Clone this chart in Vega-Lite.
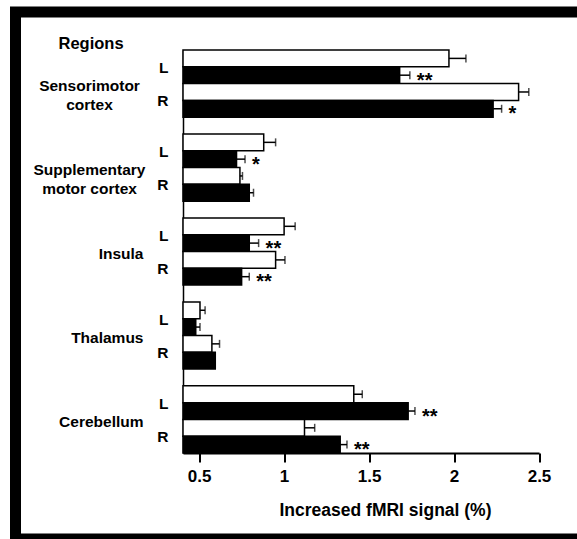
{
  "$schema": "https://vega.github.io/schema/vega-lite/v6.json",
  "autosize": {"type": "none"},
  "padding": {"left": 15.5, "top": 12, "right": 0, "bottom": 0},
  "width": 561.5,
  "height": 527,
  "background": "white",
  "config": {
    "view": {"stroke": "black", "strokeWidth": 11, "fill": "white", "strokeDash": [561.5, 527, 1088.5]},
    "font": "Liberation Sans"
  },
  "data": {
    "values": [
      {"bar": "Sensorimotor cortex|L|A", "region": "Sensorimotor cortex", "side": "L", "group": "A", "value": 1.97, "upper": 2.07, "sig": ""},
      {"bar": "Sensorimotor cortex|L|B", "region": "Sensorimotor cortex", "side": "L", "group": "B", "value": 1.68, "upper": 1.74, "sig": "**"},
      {"bar": "Sensorimotor cortex|R|A", "region": "Sensorimotor cortex", "side": "R", "group": "A", "value": 2.38, "upper": 2.44, "sig": ""},
      {"bar": "Sensorimotor cortex|R|B", "region": "Sensorimotor cortex", "side": "R", "group": "B", "value": 2.23, "upper": 2.28, "sig": "*"},
      {"bar": "Supplementary motor cortex|L|A", "region": "Supplementary motor cortex", "side": "L", "group": "A", "value": 0.88, "upper": 0.95, "sig": ""},
      {"bar": "Supplementary motor cortex|L|B", "region": "Supplementary motor cortex", "side": "L", "group": "B", "value": 0.72, "upper": 0.77, "sig": "*"},
      {"bar": "Supplementary motor cortex|R|A", "region": "Supplementary motor cortex", "side": "R", "group": "A", "value": 0.74, "upper": 0.755, "sig": ""},
      {"bar": "Supplementary motor cortex|R|B", "region": "Supplementary motor cortex", "side": "R", "group": "B", "value": 0.795, "upper": 0.82, "sig": ""},
      {"bar": "Insula|L|A", "region": "Insula", "side": "L", "group": "A", "value": 1.0, "upper": 1.065, "sig": ""},
      {"bar": "Insula|L|B", "region": "Insula", "side": "L", "group": "B", "value": 0.795, "upper": 0.85, "sig": "**"},
      {"bar": "Insula|R|A", "region": "Insula", "side": "R", "group": "A", "value": 0.95, "upper": 1.005, "sig": ""},
      {"bar": "Insula|R|B", "region": "Insula", "side": "R", "group": "B", "value": 0.75, "upper": 0.795, "sig": "**"},
      {"bar": "Thalamus|L|A", "region": "Thalamus", "side": "L", "group": "A", "value": 0.505, "upper": 0.535, "sig": ""},
      {"bar": "Thalamus|L|B", "region": "Thalamus", "side": "L", "group": "B", "value": 0.48, "upper": 0.505, "sig": ""},
      {"bar": "Thalamus|R|A", "region": "Thalamus", "side": "R", "group": "A", "value": 0.575, "upper": 0.62, "sig": ""},
      {"bar": "Thalamus|R|B", "region": "Thalamus", "side": "R", "group": "B", "value": 0.595, "upper": null, "sig": ""},
      {"bar": "Cerebellum|L|A", "region": "Cerebellum", "side": "L", "group": "A", "value": 1.41, "upper": 1.46, "sig": ""},
      {"bar": "Cerebellum|L|B", "region": "Cerebellum", "side": "L", "group": "B", "value": 1.73, "upper": 1.77, "sig": "**"},
      {"bar": "Cerebellum|R|A", "region": "Cerebellum", "side": "R", "group": "A", "value": 1.12, "upper": 1.18, "sig": ""},
      {"bar": "Cerebellum|R|B", "region": "Cerebellum", "side": "R", "group": "B", "value": 1.33, "upper": 1.37, "sig": "**"}
    ]
  },
  "resolve": {"axis": {"y": "independent", "x": "independent"}},
  "layer": [
    {
      "mark": {"type": "bar", "stroke": "black", "strokeWidth": 1.5},
      "encoding": {
        "y": {
          "field": "bar", "type": "nominal", "sort": null,
          "scale": {"domain": ["Sensorimotor cortex|L|A","Sensorimotor cortex|L|B","Sensorimotor cortex|R|A","Sensorimotor cortex|R|B","gap1","Supplementary motor cortex|L|A","Supplementary motor cortex|L|B","Supplementary motor cortex|R|A","Supplementary motor cortex|R|B","gap2","Insula|L|A","Insula|L|B","Insula|R|A","Insula|R|B","gap3","Thalamus|L|A","Thalamus|L|B","Thalamus|R|A","Thalamus|R|B","gap4","Cerebellum|L|A","Cerebellum|L|B","Cerebellum|R|A","Cerebellum|R|B"], "range": [38, 441], "paddingInner": 0, "paddingOuter": 0},
          "axis": {
            "orient": "left", "offset": -167.5, "title": null,
            "domain": true, "domainColor": "black", "domainWidth": 1.5,
            "ticks": false, "grid": false,
            "labelExpr": "split(datum.value,'|')[2] == 'B' ? split(datum.value,'|')[1] : ''",
            "labelOffset": -7.5, "labelPadding": 15,
            "labelFont": "Liberation Sans", "labelFontSize": 15.5, "labelFontWeight": "bold", "labelColor": "black",
            "labelBaseline": "middle"
          }
        },
        "x": {
          "field": "value", "type": "quantitative",
          "scale": {"domain": [0.405, 2.5], "range": [167.5, 523.5], "nice": false, "zero": false},
          "axis": {
            "orient": "bottom", "offset": -86,
            "values": [0.5, 1, 1.5, 2, 2.5], "format": "~g",
            "domain": true, "domainColor": "black", "domainWidth": 2,
            "ticks": true, "tickColor": "black", "tickWidth": 2, "tickSize": 9,
            "grid": false, "labelFlush": false,
            "labelFont": "Liberation Sans", "labelFontSize": 17, "labelFontWeight": "bold", "labelColor": "black", "labelPadding": 6,
            "title": "Increased fMRI signal (%)",
            "titleFont": "Liberation Sans", "titleFontSize": 17.5, "titleFontWeight": "bold", "titleColor": "black",
            "titleX": 369.5, "titleY": 57, "titleAlign": "center", "titleBaseline": "middle"
          }
        },
        "x2": {"datum": 0.405},
        "color": {"field": "group", "type": "nominal", "scale": {"domain": ["A", "B"], "range": ["white", "black"]}, "legend": null}
      }
    },
    {
      "transform": [{"filter": "datum.upper != null"}],
      "mark": {"type": "rule", "color": "black", "strokeWidth": 1.5},
      "encoding": {
        "y": {
          "field": "bar", "type": "nominal", "sort": null,
          "scale": {"domain": ["Sensorimotor cortex|L|A","Sensorimotor cortex|L|B","Sensorimotor cortex|R|A","Sensorimotor cortex|R|B","gap1","Supplementary motor cortex|L|A","Supplementary motor cortex|L|B","Supplementary motor cortex|R|A","Supplementary motor cortex|R|B","gap2","Insula|L|A","Insula|L|B","Insula|R|A","Insula|R|B","gap3","Thalamus|L|A","Thalamus|L|B","Thalamus|R|A","Thalamus|R|B","gap4","Cerebellum|L|A","Cerebellum|L|B","Cerebellum|R|A","Cerebellum|R|B"], "range": [38, 441], "paddingInner": 0, "paddingOuter": 0},
          "axis": {
            "orient": "left", "offset": -167.5,
            "domain": false, "ticks": false, "grid": false,
            "labelExpr": "split(datum.value,'|')[1] == 'R' && split(datum.value,'|')[2] == 'A' ? (indexof(split(datum.value,'|')[0],' ') > 0 ? [substring(split(datum.value,'|')[0],0,indexof(split(datum.value,'|')[0],' ')), substring(split(datum.value,'|')[0],indexof(split(datum.value,'|')[0],' ')+1)] : split(datum.value,'|')[0]) : ''",
            "labelOffset": -6,
            "labelAlign": {"condition": {"test": "indexof(datum.value,' ') > 0", "value": "center"}, "value": "right"},
            "labelPadding": {"condition": {"test": "indexof(datum.value,' ') > 0", "value": 94}, "value": 40},
            "labelLineHeight": 19,
            "labelFont": "Liberation Sans", "labelFontSize": 15.5, "labelFontWeight": "bold", "labelColor": "black",
            "labelBaseline": "middle",
            "title": "Regions",
            "titleFont": "Liberation Sans", "titleFontSize": 16.5, "titleFontWeight": "bold", "titleColor": "black",
            "titleAngle": 0, "titleAlign": "left", "titleBaseline": "middle", "titleX": -125, "titleY": 31
          }
        },
        "x": {"field": "value", "type": "quantitative", "scale": {"domain": [0.405, 2.5], "range": [167.5, 523.5], "nice": false, "zero": false}, "axis": null},
        "x2": {"field": "upper"}
      }
    },
    {
      "transform": [{"filter": "datum.upper != null"}],
      "mark": {"type": "tick", "color": "black", "thickness": 1.5, "size": 8},
      "encoding": {
        "y": {"field": "bar", "type": "nominal", "sort": null, "axis": null,
          "scale": {"domain": ["Sensorimotor cortex|L|A","Sensorimotor cortex|L|B","Sensorimotor cortex|R|A","Sensorimotor cortex|R|B","gap1","Supplementary motor cortex|L|A","Supplementary motor cortex|L|B","Supplementary motor cortex|R|A","Supplementary motor cortex|R|B","gap2","Insula|L|A","Insula|L|B","Insula|R|A","Insula|R|B","gap3","Thalamus|L|A","Thalamus|L|B","Thalamus|R|A","Thalamus|R|B","gap4","Cerebellum|L|A","Cerebellum|L|B","Cerebellum|R|A","Cerebellum|R|B"], "range": [38, 441], "paddingInner": 0, "paddingOuter": 0}},
        "x": {"field": "upper", "type": "quantitative", "scale": {"domain": [0.405, 2.5], "range": [167.5, 523.5], "nice": false, "zero": false}, "axis": null}
      }
    },
    {
      "transform": [{"filter": "datum.sig != ''"}],
      "mark": {"type": "text", "align": "left", "baseline": "middle", "dx": 7, "dy": 5.5, "font": "Liberation Sans", "fontSize": 20, "fontWeight": "bold", "color": "black"},
      "encoding": {
        "y": {"field": "bar", "type": "nominal", "sort": null, "axis": null,
          "scale": {"domain": ["Sensorimotor cortex|L|A","Sensorimotor cortex|L|B","Sensorimotor cortex|R|A","Sensorimotor cortex|R|B","gap1","Supplementary motor cortex|L|A","Supplementary motor cortex|L|B","Supplementary motor cortex|R|A","Supplementary motor cortex|R|B","gap2","Insula|L|A","Insula|L|B","Insula|R|A","Insula|R|B","gap3","Thalamus|L|A","Thalamus|L|B","Thalamus|R|A","Thalamus|R|B","gap4","Cerebellum|L|A","Cerebellum|L|B","Cerebellum|R|A","Cerebellum|R|B"], "range": [38, 441], "paddingInner": 0, "paddingOuter": 0}},
        "x": {"field": "upper", "type": "quantitative", "scale": {"domain": [0.405, 2.5], "range": [167.5, 523.5], "nice": false, "zero": false}, "axis": null},
        "text": {"field": "sig"}
      }
    }
  ]
}
